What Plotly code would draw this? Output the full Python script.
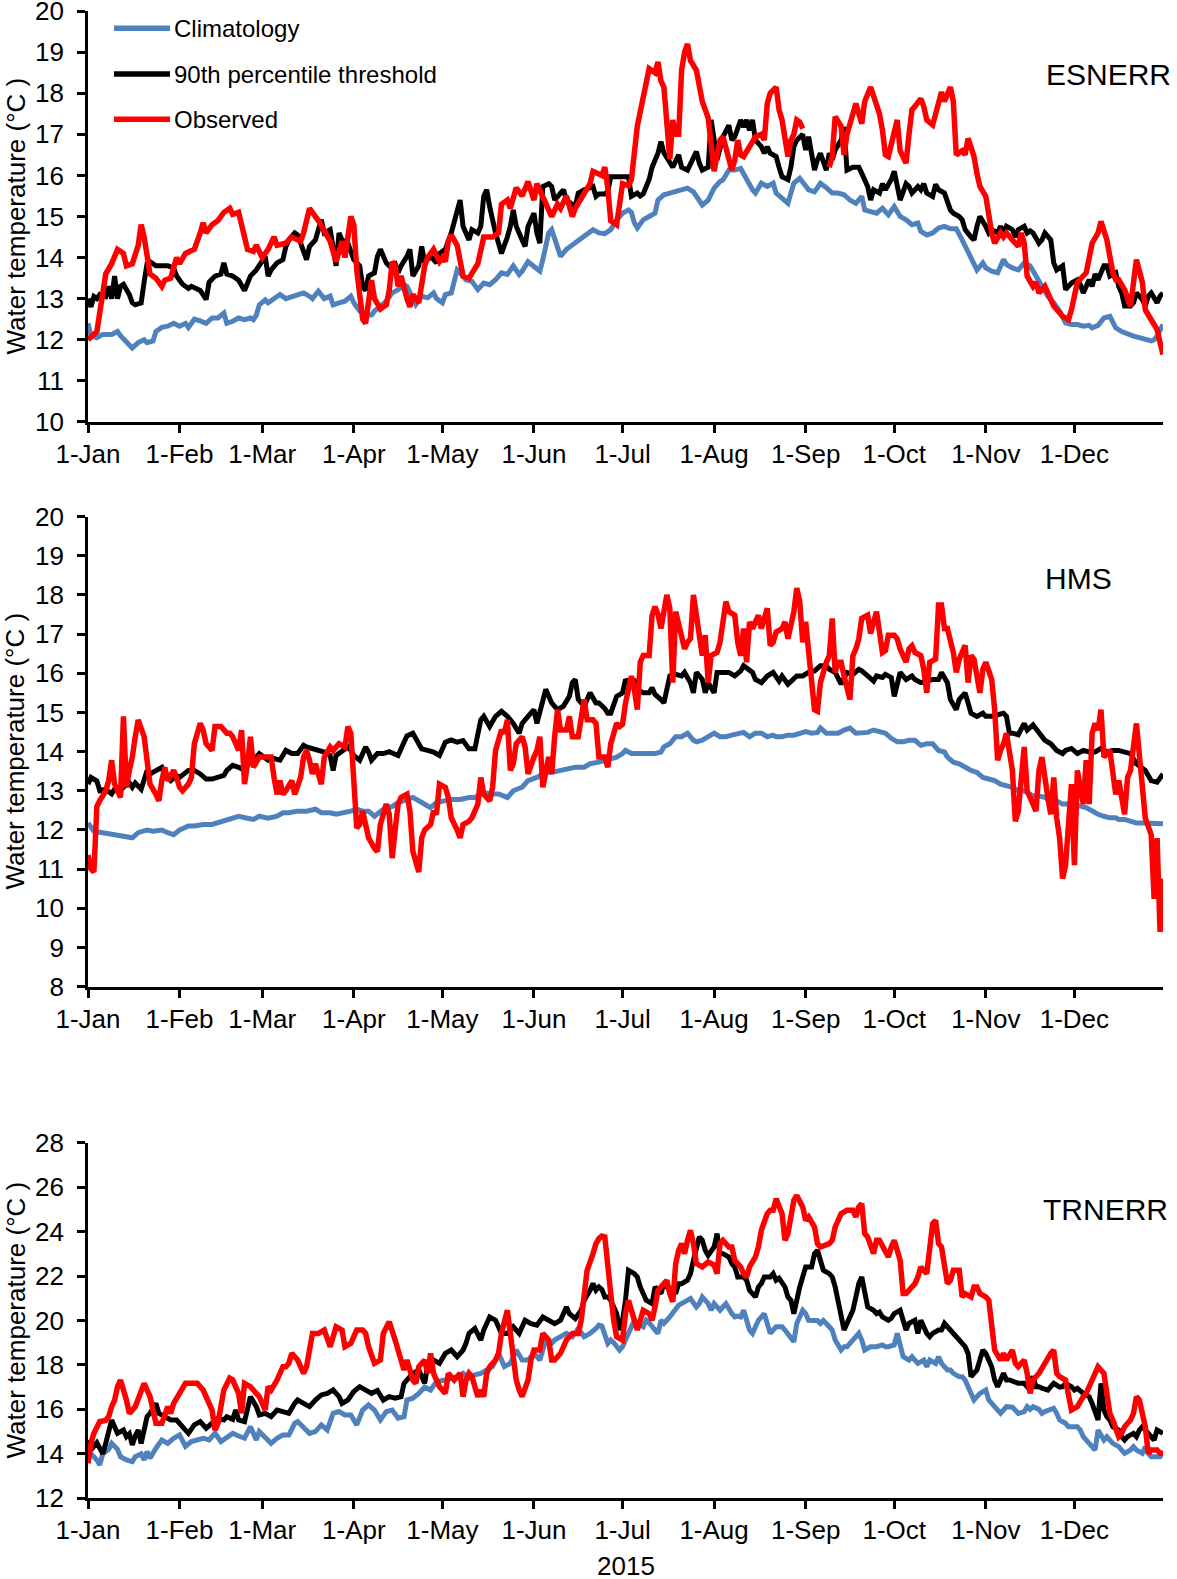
import plotly.graph_objects as go

# ---------------- data ----------------
month_start_days = [0, 31, 59, 90, 120, 151, 181, 212, 243, 273, 304, 334]
month_labels = ["1-Jan", "1-Feb", "1-Mar", "1-Apr", "1-May", "1-Jun",
                "1-Jul", "1-Aug", "1-Sep", "1-Oct", "1-Nov", "1-Dec"]
year_label = "2015"
stations = ["ESNERR", "HMS", "TRNERR"]
series_names = ["Climatology", "90th percentile threshold", "Observed"]
series_colors = ["#4F81BD", "#000000", "#FF0000"]
y_ranges = [[10, 20], [8, 20], [12, 28]]
y_dticks = [1, 1, 2]

# (day of year, value in degC)
esn_clim = [(0,12.4),(1,12.1),(3,12.05),(5,12.13),(8,12.13),(10,12.2),(11,12.1),(13,11.93),(15,11.8),(17,11.93),(19,12.0),(20,11.93),(22,11.97),(23,12.2),(25,12.3),(27,12.33),(29,12.4),(31,12.33),(33,12.4),(34,12.3),(36,12.5),(38,12.46),(40,12.4),(42,12.53),(44,12.53),(46,12.65),(47,12.4),(49,12.45),(51,12.53),(53,12.49),(55,12.53),(56,12.49),(57,12.6),(58,12.85),(60,12.97),(61,12.9),(63,13.0),(65,13.1),(67,13.0),(69,13.05),(71,13.1),(73,13.14),(75,13.06),(76,13.0),(78,13.18),(80,13.0),(82,13.06),(83,12.85),(85,12.9),(87,12.94),(89,13.06),(90,12.9),(92,12.7),(94,12.6),(96,12.6),(97,12.7),(99,12.82),(101,12.94),(103,13.14),(105,13.22),(107,13.34),(108,13.3),(110,13.0),(111,12.86),(113,13.06),(115,13.02),(117,13.14),(118,13.0),(120,12.9),(121,13.1),(123,13.14),(125,13.7),(126,13.63),(128,13.46),(130,13.42),(132,13.22),(134,13.38),(136,13.34),(138,13.46),(140,13.63),(142,13.59),(144,13.8),(146,13.59),(147,13.67),(149,13.9),(151,13.8),(153,13.67),(154,13.95),(156,14.6),(157,14.68),(158,14.43),(160,14.03),(162,14.2),(164,14.3),(166,14.43),(169,14.55),(171,14.68),(173,14.6),
    (175,14.58),(177,14.68),(179,14.92),(181,15.08),(183,15.16),(184,15.1),(185,14.84),(186,14.72),(188,14.92),(190,15.0),(192,15.08),(193,15.4),(195,15.53),(197,15.57),(199,15.6),(201,15.65),(203,15.69),(205,15.6),(206,15.49),(208,15.28),(210,15.4),(212,15.69),(214,15.85),(215,15.89),(217,16.13),(219,16.13),(221,16.17),(223,15.89),(225,15.65),(226,15.57),(228,15.81),(230,15.73),(232,15.81),(233,15.57),(235,15.45),(237,15.32),(238,15.57),(239,15.81),(241,15.93),(243,15.77),(244,15.65),(246,15.6),(248,15.81),(250,15.7),(252,15.57),(254,15.57),(256,15.53),(258,15.4),(260,15.32),(262,15.49),(263,15.16),(265,15.12),(267,15.08),(269,15.2),(271,15.04),(273,15.24),(275,15.0),(277,14.92),(279,14.8),(281,14.84),(282,14.64),(284,14.55),(286,14.6),(288,14.72),(290,14.76),(292,14.7),(294,14.7),(296,14.43),(298,14.11),(300,13.79),(301,13.7),(303,13.87),(304,13.75),(306,13.67),(308,13.63),(310,13.95),(311,13.83),(313,13.75),(315,13.7),(317,13.87),(319,13.8),(321,13.55),(323,13.3),(325,13.06),(327,12.9),(329,12.7),(331,12.41),(333,12.37),(335,12.37),(337,12.33),(339,12.35),(340,12.29),(342,12.35),(344,12.53),(346,12.57),(348,12.29),(350,12.2),(352,12.13),(354,12.09),(356,12.05),(358,12.0),(360,11.97),(361,12.0),(362,12.09),(364,12.37)]

esn_thr = [(0,13.0),(1,12.8),(2,13.05),(3,13.0),(4,13.1),(6,13.05),(7,13.3),(8,13.0),(9,13.55),(10,13.0),(11,13.3),(12,13.35),(14,13.1),(15,12.9),(16,12.85),(18,12.9),(19,13.4),(20,13.85),(21,13.9),(23,13.8),(25,13.8),(27,13.8),(29,13.75),(30,13.55),(32,13.35),(34,13.25),(35,13.3),(38,13.2),(40,12.98),(41,13.4),(43,13.55),(45,13.6),(46,13.87),(47,13.6),(49,13.55),(51,13.45),(53,13.2),(55,13.55),(57,13.7),(58,13.8),(60,14.03),(61,13.55),(62,13.7),(64,13.87),(66,13.95),(67,14.27),(68,14.43),(70,14.6),(71,14.55),(72,14.35),(74,13.95),(75,14.27),(77,14.43),(79,14.92),(80,14.6),(82,14.68),(83,14.27),(84,13.8),(85,14.6),(86,14.43),(88,14.35),(89,14.1),(90,13.95),(92,13.8),(93,13.3),(94,13.2),(95,13.55),(97,13.63),(98,14.03),(99,14.2),(101,13.87),(102,13.8),(104,13.85),(105,13.63),(106,13.8),(108,14.03),(109,14.2),(110,13.55),(112,13.8),(113,14.27),(114,13.87),(116,14.03),(118,13.87),(119,14.1),(121,14.2),(123,14.6),(125,15.08),(126,15.4),(127,14.76),(129,14.43),(130,14.68),(132,14.6),(133,14.76),(134,15.49),(135,15.65),(136,15.24),(138,14.6),(139,14.35),(140,14.1),(142,14.5),(143,14.76),(144,15.16),(145,14.76),(147,14.43),(148,14.27),(149,14.76),(151,15.08),(152,14.6),(153,14.35),(154,15.73),(156,15.8),(157,15.73),(158,15.4),(160,15.57),(161,15.65),(162,15.4),(165,15.24),(166,15.57),(168,15.65),(171,15.73),(172,15.49),(173,15.55),
    (175,15.55),(176,15.6),(177,15.97),(180,15.97),(183,15.97),(184,15.49),(186,15.57),(187,15.5),(188,15.55),(190,15.9),(191,16.2),(193,16.54),(194,16.82),(195,16.55),(197,16.3),(198,16.2),(200,16.5),(201,16.2),(203,16.13),(204,16.3),(206,16.58),(207,16.3),(208,16.13),(210,16.2),(211,17.35),(213,16.38),(214,16.7),(215,16.94),(217,17.22),(218,16.86),(219,16.94),(221,17.35),(222,17.18),(223,17.35),(224,17.1),(225,17.35),(226,16.86),(228,16.7),(229,16.54),(230,16.7),(231,16.54),(233,16.46),(234,16.2),(235,15.97),(237,15.9),(238,16.2),(239,16.7),(240,16.86),(242,17.0),(243,16.62),(244,16.94),(246,16.13),(247,16.38),(248,16.54),(250,16.13),(251,16.54),(252,16.38),(253,16.62),(255,16.86),(256,17.18),(257,16.13),(259,16.2),(260,16.2),(261,16.2),(262,16.05),(264,15.73),(265,15.4),(266,15.65),(268,15.57),(269,15.8),(270,15.65),(272,15.9),(273,16.1),(274,15.8),(275,15.4),(277,15.8),(278,15.73),(279,15.57),(281,15.73),(282,15.65),(283,15.8),(284,15.57),(286,15.49),(287,15.78),(288,15.65),(290,15.57),(291,15.4),(292,15.16),(293,15.08),(295,15.0),(296,14.92),(297,14.68),(299,14.5),(300,14.43),(301,14.76),(302,15.0),(304,14.76),(305,14.6),(306,14.68),(308,14.6),(309,14.76),(310,14.6),(311,14.76),(313,14.68),(314,14.5),(315,14.68),(317,14.76),(318,14.6),(319,14.65),(320,14.6),(322,14.35),(323,14.43),(324,14.6),(326,14.43),(327,13.87),(328,13.7),(330,13.8),(331,13.22),(332,13.3),(333,13.38),(335,13.46),(336,13.34),(337,13.14),(339,13.46),(340,13.3),(341,13.6),(342,13.46),(344,13.8),(345,13.8),(346,13.55),(348,13.63),(349,13.3),(350,13.14),(351,12.82),(353,12.82),(354,12.9),(355,13.14),(357,12.98),(358,12.82),(359,13.06),(360,13.14),(362,12.9),(363,13.06),(364,13.14)]

esn_obs = [(0,12.0),(3,12.2),(6,13.6),(8,13.85),(10,14.2),(12,14.1),(13,13.8),(15,13.85),(17,14.3),(18,14.8),(19,14.5),(21,13.6),(23,13.5),(25,13.3),(26,13.45),(28,13.5),(30,14.0),(31,13.85),(33,14.1),(36,14.2),(38,14.6),(39,14.85),(40,14.6),(42,14.8),(44,14.9),(46,15.1),(48,15.2),(49,15.05),(51,15.1),(54,14.2),(56,14.15),(57,14.3),(59,14.0),(61,14.2),(63,14.5),(64,14.3),(67,14.35),(69,14.5),(72,14.4),(73,14.6),(75,15.2),(76,15.1),(78,14.9),(82,14.4),(84,13.9),(86,14.4),(87,14.0),(89,15.0),(90,14.8),(91,13.7),(93,12.5),(94,12.4),(95,13.0),(96,13.45),(97,13.0),(99,12.75),(101,12.85),(102,13.2),(103,13.9),(104,13.8),(105,13.3),(106,13.55),(108,13.0),(109,12.8),(110,13.1),(112,12.9),(114,13.8),(115,14.0),(117,14.2),(119,13.9),(120,14.0),(121,13.9),(122,14.4),(123,14.55),(125,14.3),(127,13.55),(129,13.5),(130,13.6),(132,13.85),(134,14.5),(137,14.5),(139,14.6),(140,15.3),(142,15.4),(143,15.2),(145,15.7),(147,15.5),(149,15.85),(151,15.4),(152,15.8),(154,15.5),(157,15.0),(159,15.3),(160,15.2),(162,15.5),(164,15.0),(165,15.2),(168,15.6),(170,15.8),(171,16.1),(174,16.0),
    (175,16.2),(176,15.7),(177,14.9),(179,14.8),(181,15.8),(183,15.75),(184,15.9),(185,16.7),(186,17.2),(188,17.9),(189,18.3),(190,18.6),(192,18.5),(193,18.76),(194,18.3),(195,18.15),(197,16.4),(198,17.35),(199,17.0),(200,17.0),(201,18.56),(202,19.0),(203,19.2),(204,18.8),(206,18.56),(208,17.8),(210,17.4),(211,16.86),(212,16.1),(213,16.5),(214,16.86),(215,16.94),(217,16.46),(218,16.13),(219,16.37),(220,16.86),(221,16.5),(222,16.46),(224,16.7),(225,16.86),(226,16.94),(228,17.0),(229,16.86),(230,17.75),(231,18.0),(233,18.15),(234,17.6),(235,17.35),(237,16.46),(238,16.86),(239,17.0),(240,17.35),(241,17.3),(242,17.14),(246,None),(251,16.2),(252,16.46),(253,17.43),(255,17.2),(256,16.5),(257,17.0),(259,17.5),(260,17.75),(262,17.26),(263,17.8),(265,18.15),(266,17.9),(268,17.5),(269,17.1),(270,16.5),(271,16.46),(273,17.0),(274,17.35),(275,16.6),(277,16.3),(278,17.0),(279,17.6),(280,17.68),(282,17.87),(283,17.68),(284,17.35),(286,17.23),(287,17.5),(289,18.03),(290,17.8),(292,18.15),(293,17.8),(294,16.5),(296,16.6),(297,16.5),(298,16.9),(300,16.46),(301,16.05),(302,15.73),(304,15.49),(305,14.92),(306,14.6),(307,14.35),(309,14.6),(310,14.5),(311,14.6),(313,14.43),(315,14.27),(316,14.6),(317,14.35),(318,13.55),(320,13.3),(321,13.4),(322,13.14),(324,13.3),(326,12.98),(327,12.82),(330,12.57),(332,12.49),(333,12.73),(335,13.4),(338,13.63),(340,14.35),(342,14.6),(343,14.88),(345,14.43),(347,13.63),(348,13.46),(349,13.46),(351,13.22),(353,12.82),(355,13.95),(357,13.4),(358,12.73),(360,12.49),(362,12.25),(363,11.93),(364,11.64)]

hms_clim = [(0,12.18),(2,11.97),(5,11.93),(9,11.88),(12,11.86),(15,11.8),(17,11.93),(20,12.0),(22,11.97),(25,12.0),(27,11.93),(29,11.88),(31,12.0),(34,12.1),(36,12.1),(39,12.14),(42,12.14),(45,12.22),(48,12.3),(51,12.35),(54,12.3),(56,12.27),(58,12.35),(61,12.3),(64,12.35),(66,12.44),(68,12.44),(71,12.48),(74,12.48),(77,12.53),(79,12.44),(82,12.44),(84,12.4),(87,12.44),(89,12.48),(91,12.53),(93,12.48),(95,12.48),(97,12.35),(100,12.53),(103,12.6),(105,12.7),(108,12.78),(110,12.83),(113,12.7),(116,12.57),(118,12.7),(121,12.74),(123,12.78),(126,12.78),(129,12.83),(131,12.83),(134,12.96),(136,12.92),(139,12.92),(142,12.83),(144,13.0),(147,13.09),(149,13.26),(152,13.34),(155,13.47),(157,13.47),(160,13.52),(162,13.56),(165,13.6),(168,13.6),(170,13.69),(173,13.73),
    (175,13.78),(177,13.82),(179,13.86),(181,13.95),(182,14.03),(184,13.95),(186,13.95),(189,13.97),(192,13.95),(194,13.99),(195,14.12),(197,14.2),(199,14.38),(201,14.38),(203,14.47),(205,14.29),(206,14.25),(208,14.29),(210,14.38),(212,14.47),(214,14.38),(216,14.38),(218,14.42),(220,14.47),(222,14.49),(224,14.38),(226,14.47),(228,14.47),(230,14.38),(232,14.42),(233,14.38),(235,14.38),(237,14.42),(239,14.42),(241,14.47),(243,14.51),(245,14.47),(247,14.49),(248,14.6),(250,14.47),(252,14.47),(254,14.47),(256,14.55),(258,14.6),(260,14.47),(262,14.47),(264,14.49),(266,14.55),(268,14.51),(270,14.47),(272,14.34),(274,14.25),(276,14.25),(278,14.29),(280,14.29),(282,14.16),(284,14.2),(286,14.2),(288,14.03),(290,13.99),(291,13.86),(293,13.73),(295,13.69),(297,13.6),(299,13.52),(301,13.47),(303,13.34),(305,13.3),(307,13.26),(309,13.17),(311,13.13),(313,13.09),(315,13.0),(317,13.0),(319,12.91),(320,12.87),(322,12.87),(324,12.83),(326,12.74),(328,12.74),(330,12.66),(332,12.66),(334,12.61),(336,12.61),(338,12.57),(340,12.48),(342,12.4),(344,12.35),(346,12.31),(348,12.31),(349,12.27),(351,12.27),(353,12.22),(355,12.18),(357,12.18),(359,12.18),(361,12.18),(363,12.16),(364,12.16)]

hms_thr = [(0,13.17),(1,13.34),(3,13.25),(4,13.0),(6,13.04),(8,12.92),(9,13.04),(11,13.0),(12,13.09),(14,13.2),(15,13.09),(16,13.2),(18,13.04),(19,13.26),(20,13.52),(21,13.43),(23,13.52),(25,13.6),(26,13.39),(28,13.26),(30,13.39),(31,13.34),(34,13.52),(36,13.52),(38,13.43),(40,13.3),(42,13.3),(44,13.34),(46,13.39),(47,13.52),(49,13.65),(51,13.6),(53,13.52),(55,13.78),(57,13.86),(58,13.95),(60,13.86),(61,13.78),(63,13.82),(65,13.78),(67,14.03),(69,13.95),(71,13.95),(73,14.16),(74,14.12),(76,14.07),(78,14.03),(80,13.99),(82,13.9),(83,13.52),(84,13.9),(86,14.03),(88,14.12),(89,14.03),(90,13.9),(92,13.78),(94,14.12),(95,13.99),(96,13.78),(98,13.95),(100,13.95),(102,14.0),(104,13.95),(105,13.9),(107,14.24),(108,14.4),(110,14.47),(112,14.24),(113,14.07),(115,14.03),(117,13.99),(119,13.9),(121,14.24),(123,14.3),(125,14.24),(127,14.28),(129,14.07),(131,14.07),(132,14.47),(133,14.81),(134,14.9),(136,14.64),(138,14.9),(140,15.03),(142,14.9),(144,14.72),(146,14.47),(147,14.72),(149,14.9),(151,15.07),(152,14.72),(154,15.33),(155,15.59),(157,15.24),(159,15.07),(161,15.16),(163,15.41),(164,15.76),(165,15.84),(166,15.33),(168,15.16),(170,15.5),(172,15.24),(173,15.24),
    (175,15.1),(176,14.98),(177,14.98),(179,15.41),(181,15.5),(182,15.84),(183,15.76),(185,15.8),(186,15.59),(188,15.5),(190,15.5),(191,15.63),(192,15.46),(194,15.33),(195,15.24),(197,15.93),(199,15.97),(201,15.93),(202,16.02),(204,15.76),(205,15.5),(206,16.02),(208,15.84),(209,15.5),(210,15.76),(212,15.5),(213,16.02),(215,16.02),(217,16.02),(219,15.93),(221,16.06),(222,16.19),(224,16.06),(225,16.02),(226,15.84),(228,15.76),(230,15.93),(232,16.02),(234,15.8),(235,15.93),(237,15.72),(239,15.89),(240,15.93),(242,15.93),(244,16.02),(246,16.06),(248,16.19),(250,16.19),(251,16.1),(253,16.02),(254,15.89),(255,15.72),(257,16.02),(259,15.97),(261,16.1),(262,16.06),(264,15.93),(266,15.8),(267,15.93),(269,15.89),(270,15.97),(272,15.89),(273,15.41),(275,16.02),(277,15.84),(279,15.93),(280,15.84),(282,15.76),(284,15.8),(286,15.84),(288,15.84),(289,16.02),(291,15.76),(292,15.33),(294,15.07),(295,15.33),(297,15.5),(299,14.98),(301,14.9),(303,14.98),(304,14.9),(306,14.9),(308,14.94),(310,14.98),(311,14.9),(312,14.47),(313,14.47),(315,14.43),(317,14.72),(318,14.55),(320,14.68),(322,14.47),(324,14.29),(326,14.2),(328,14.03),(330,13.95),(331,14.03),(333,14.08),(335,13.95),(337,14.03),(339,13.99),(341,13.99),(343,14.08),(345,13.99),(347,14.03),(349,14.03),(351,13.99),(353,13.95),(355,13.69),(357,13.6),(358,13.52),(360,13.26),(362,13.22),(364,13.43)]

hms_obs = [(0,11.36),(1,11.0),(2,10.93),(3,12.6),(4,12.75),(6,13.0),(7,13.26),(8,13.78),(9,13.17),(10,13.0),(11,12.83),(12,14.9),(13,13.09),(14,13.52),(15,13.86),(16,14.38),(17,14.81),(19,14.38),(20,13.7),(21,13.17),(23,12.91),(24,12.74),(25,13.26),(26,13.6),(27,13.26),(29,13.52),(30,13.34),(31,13.09),(32,13.0),(34,13.17),(35,13.34),(36,14.2),(38,14.72),(39,14.55),(40,14.2),(42,14.03),(43,14.64),(45,14.64),(47,14.47),(48,14.47),(49,14.38),(51,14.03),(52,14.55),(53,13.17),(54,13.69),(55,14.38),(56,13.6),(58,13.86),(60,13.86),(62,13.86),(63,13.34),(64,12.91),(65,13.26),(66,12.91),(67,13.0),(69,13.26),(70,12.91),(72,13.34),(73,13.86),(74,14.03),(75,13.78),(76,13.43),(77,13.69),(79,13.17),(80,13.86),(82,14.12),(83,14.03),(84,14.1),(85,14.2),(87,14.12),(88,14.64),(89,14.47),(90,13.17),(91,12.05),(92,12.14),(93,12.48),(94,12.14),(95,11.8),(97,11.53),(98,11.45),(99,12.14),(101,12.66),(102,12.4),(103,11.28),(104,12.0),(105,12.66),(106,12.83),(108,12.91),(109,12.48),(110,11.45),(112,10.93),(113,11.8),(114,12.0),(116,12.14),(117,12.48),(118,12.4),(119,13.17),(121,13.09),(122,12.83),(123,12.31),(125,12.0),(126,11.8),(127,12.14),(129,12.22),(130,12.31),(132,12.66),(133,13.34),(134,12.91),(136,12.74),(137,13.09),(138,14.03),(140,14.55),(141,14.47),(142,14.81),(143,13.52),(144,13.69),(145,14.2),(147,14.38),(148,14.12),(149,13.43),(151,13.86),(152,14.03),(153,14.38),(154,13.09),(156,13.86),(157,13.43),(158,14.38),(159,15.07),(160,14.55),(162,14.55),(163,14.9),(164,14.38),(166,14.38),(167,14.98),(168,15.33),(169,14.81),(171,14.81),(172,14.72),(173,13.86),
    (175,13.86),(176,13.6),(177,14.2),(179,14.72),(180,14.64),(181,14.7),(182,15.24),(184,15.93),(185,15.59),(186,15.07),(187,16.28),(188,16.45),(190,16.45),(191,17.48),(192,17.7),(193,17.5),(194,17.14),(195,17.57),(196,18.0),(197,17.66),(198,15.76),(199,17.57),(201,16.97),(202,16.62),(203,16.79),(204,16.88),(205,18.0),(206,17.48),(208,16.45),(209,16.97),(210,15.76),(211,16.45),(213,16.53),(214,16.79),(216,17.83),(217,17.57),(219,17.48),(220,16.79),(221,16.45),(222,17.14),(223,16.28),(224,17.31),(225,17.14),(226,17.31),(227,17.48),(228,17.14),(229,17.44),(230,17.66),(231,16.71),(232,16.79),(233,17.05),(235,17.14),(236,17.31),(237,16.88),(239,17.57),(240,18.17),(241,17.83),(242,16.79),(243,17.31),(244,16.45),(246,15.07),(247,15.03),(248,15.76),(250,16.28),(251,16.45),(252,17.4),(253,16.02),(254,16.28),(255,16.28),(256,15.93),(258,15.33),(259,16.45),(260,16.62),(261,16.88),(262,17.4),(264,17.48),(265,17.01),(266,17.31),(267,17.57),(269,16.53),(270,16.58),(271,16.97),(273,16.97),(274,16.88),(275,16.62),(277,16.28),(278,16.62),(279,16.7),(280,16.53),(282,16.45),(283,16.1),(284,15.5),(285,16.28),(287,16.36),(288,17.74),(289,17.74),(290,17.14),(291,17.14),(293,16.53),(294,16.02),(295,16.36),(297,16.71),(298,15.76),(299,16.45),(300,16.36),(302,15.5),(303,16.1),(304,16.28),(306,15.84),(307,15.07),(308,13.78),(309,14.03),(310,14.2),(311,14.47),(313,13.52),(314,12.22),(315,12.48),(317,14.12),(318,13.0),(319,12.83),(321,12.48),(322,13.52),(323,13.86),(325,12.83),(326,12.4),(327,13.34),(328,12.31),(329,11.79),(330,10.76),(331,11.1),(333,13.17),(334,11.1),(335,13.52),(337,12.66),(338,13.78),(339,12.66),(340,14.47),(341,14.72),(342,14.55),(343,15.07),(344,13.86),(346,14.03),(347,13.52),(348,12.91),(349,13.26),(351,12.4),(352,13.34),(353,13.52),(355,14.72),(356,13.86),(357,12.91),(358,12.31),(360,11.88),(361,10.24),(362,11.79),(363,9.4),(364,10.76)]

trn_clim = [(0,13.87),(1,14.0),(3,13.72),(4,13.5),(5,14.0),(7,14.2),(8,14.47),(10,14.2),(11,13.87),(13,13.72),(15,13.65),(16,13.87),(18,14.0),(19,13.72),(20,14.1),(21,13.8),(23,14.25),(25,14.62),(27,14.47),(29,14.7),(31,14.85),(33,14.33),(35,14.55),(37,14.62),(39,14.7),(41,14.62),(43,14.92),(45,14.55),(47,14.77),(49,14.92),(51,14.8),(53,14.7),(55,15.22),(57,14.62),(58,15.0),(60,14.77),(62,14.47),(64,14.7),(66,14.85),(68,14.85),(70,15.37),(71,15.45),(73,15.15),(75,14.92),(77,15.0),(79,15.3),(81,15.07),(83,15.82),(85,15.9),(87,15.75),(89,15.75),(91,15.3),(93,15.97),(95,16.2),(97,15.97),(99,15.52),(101,15.9),(103,15.97),(105,15.6),(107,15.67),(108,16.42),(110,16.5),(112,16.72),(114,17.0),(116,16.87),(118,17.25),(121,17.32),(123,17.4),(125,17.47),(127,17.62),(129,17.4),(131,17.55),(133,17.62),(135,17.77),(137,17.93),(139,18.52),(141,17.93),(143,18.07),(145,18.67),(147,18.22),(149,18.22),(151,18.52),(153,18.22),(155,19.12),(157,18.97),(158,19.12),(160,19.27),(162,19.42),(164,19.27),(166,19.64),(168,19.27),(170,19.42),(172,19.64),(173,19.79),
    (174,19.75),(175,19.42),(176,18.97),(177,19.12),(178,19.0),(180,18.67),(181,18.82),(182,19.12),(184,19.72),(185,20.01),(186,19.87),(188,19.72),(189,20.01),(190,19.9),(192,19.57),(193,19.42),(194,20.01),(195,19.87),(197,20.16),(198,20.31),(199,20.46),(200,20.69),(202,20.84),(203,20.91),(204,20.99),(206,20.61),(207,20.76),(208,21.06),(210,20.76),(211,20.46),(212,20.76),(214,20.46),(215,20.61),(216,20.76),(218,20.31),(219,20.16),(220,20.2),(221,20.16),(222,20.46),(224,19.57),(225,19.42),(226,19.72),(227,20.01),(229,20.31),(230,19.87),(231,19.42),(233,19.72),(234,19.7),(235,19.72),(236,19.57),(238,19.27),(239,19.04),(240,19.87),(242,20.46),(243,20.31),(244,20.01),(246,20.0),(247,20.0),(248,19.87),(249,20.0),(251,19.72),(252,19.57),(253,19.12),(255,18.67),(256,18.82),(257,18.82),(258,18.97),(260,19.27),(261,19.42),(262,19.12),(263,18.67),(265,18.82),(266,18.82),(267,18.82),(269,18.9),(270,18.82),(271,18.82),(273,18.9),(274,19.42),(275,18.82),(276,18.37),(278,18.22),(279,18.37),(280,18.22),(281,18.07),(283,18.22),(284,17.92),(285,18.22),(287,18.07),(288,18.37),(289,18.07),(291,17.77),(292,17.77),(293,17.62),(295,17.47),(296,17.47),(297,17.32),(298,17.02),(300,16.42),(301,16.57),(302,16.72),(304,16.87),(305,16.42),(306,16.27),(307,16.12),(309,15.82),(310,15.97),(311,16.12),(313,16.1),(314,15.97),(315,15.82),(317,15.9),(318,16.12),(319,16.0),(320,16.12),(322,16.0),(323,15.82),(324,15.9),(326,15.97),(327,16.05),(328,15.82),(329,15.52),(331,15.37),(332,15.22),(333,15.22),(335,15.22),(336,15.07),(337,14.77),(339,14.47),(340,14.32),(341,14.17),(342,15.07),(344,14.62),(345,14.77),(346,14.62),(347,14.47),(349,14.32),(350,14.17),(351,14.02),(353,14.17),(354,14.32),(355,14.17),(357,14.02),(358,14.32),(359,14.02),(360,13.87),(362,13.87),(363,13.87),(364,14.02)]

trn_thr = [(0,14.62),(1,14.17),(3,14.5),(4,14.25),(5,14.0),(6,14.47),(8,15.52),(9,15.22),(10,14.92),(12,15.07),(13,14.77),(14,14.9),(15,14.4),(16,14.8),(17,15.07),(18,14.47),(20,15.67),(21,15.82),(23,16.27),(24,15.82),(26,15.67),(28,15.52),(30,15.52),(32,15.22),(34,14.92),(36,15.3),(38,15.45),(40,15.15),(42,15.37),(44,15.6),(46,15.52),(47,15.67),(49,15.55),(50,15.97),(51,15.52),(53,15.45),(55,16.57),(57,16.12),(58,15.75),(60,15.82),(62,15.67),(64,15.97),(66,15.9),(68,15.82),(70,16.27),(71,16.42),(73,16.27),(75,16.12),(77,16.42),(79,16.65),(81,16.72),(83,16.87),(85,16.57),(86,16.27),(88,16.42),(90,16.8),(92,17.02),(94,16.9),(96,16.72),(98,16.85),(100,16.42),(102,16.57),(104,16.5),(106,16.57),(107,17.17),(109,17.47),(110,17.62),(112,17.77),(114,17.17),(115,18.0),(117,18.22),(119,18.07),(121,18.52),(123,18.67),(125,18.37),(127,18.67),(128,18.97),(129,19.42),(131,19.64),(133,19.12),(134,19.57),(136,20.16),(138,20.01),(140,19.42),(142,19.42),(144,19.72),(146,19.42),(148,20.01),(150,19.86),(152,19.79),(154,20.16),(156,20.01),(158,19.86),(160,20.01),(162,20.61),(163,20.31),(165,20.09),(167,20.46),(168,20.91),(170,21.36),(171,21.66),(172,21.36),(173,21.51),
    (174,21.4),(175,21.06),(176,21.06),(177,20.91),(179,20.31),(180,19.57),(181,20.01),(182,20.91),(183,22.26),(185,22.11),(186,21.96),(187,21.51),(189,20.91),(190,20.84),(191,20.76),(192,21.51),(194,21.21),(195,21.66),(196,21.51),(198,21.36),(199,21.21),(200,21.66),(201,21.66),(203,21.81),(204,22.11),(205,22.71),(207,23.76),(208,23.61),(209,23.16),(210,22.93),(212,23.31),(213,23.91),(214,23.01),(215,23.01),(217,22.86),(218,22.56),(219,22.41),(220,21.96),(222,21.96),(223,21.81),(224,21.36),(226,21.06),(227,21.51),(228,21.66),(229,21.96),(231,21.96),(232,22.11),(233,21.81),(234,21.9),(236,21.51),(237,21.06),(238,20.91),(239,20.31),(241,21.51),(242,21.96),(243,22.41),(245,22.41),(246,23.01),(247,23.16),(248,22.71),(249,22.26),(251,22.11),(252,21.96),(253,21.51),(255,20.01),(256,19.57),(257,19.87),(259,20.46),(260,21.06),(261,21.66),(262,21.96),(263,21.21),(264,20.61),(266,20.46),(267,20.31),(268,20.38),(269,20.16),(271,20.01),(272,20.1),(273,20.31),(275,20.46),(276,20.01),(277,19.57),(278,19.87),(280,20.01),(281,19.42),(282,20.01),(284,19.42),(285,19.27),(286,19.42),(288,19.57),(289,19.57),(290,19.87),(291,19.72),(293,19.42),(294,19.27),(295,19.12),(297,18.82),(298,18.52),(299,17.47),(301,17.77),(302,18.22),(303,18.67),(304,18.52),(306,17.92),(307,17.32),(308,17.02),(310,17.62),(311,17.32),(312,17.32),(313,17.25),(315,17.17),(316,17.17),(317,17.17),(318,17.02),(320,17.47),(321,17.02),(322,17.02),(323,16.95),(325,16.87),(326,17.02),(327,17.17),(329,17.0),(330,17.02),(331,17.17),(333,17.02),(334,16.87),(335,16.95),(337,16.72),(338,16.65),(339,16.57),(340,16.27),(342,15.52),(343,17.17),(344,15.97),(345,15.67),(346,15.52),(347,15.22),(349,15.07),(350,14.77),(351,14.62),(352,14.77),(354,14.92),(355,14.77),(356,15.07),(357,15.22),(359,14.92),(360,14.77),(361,14.62),(362,15.07),(364,14.92)]

trn_obs = [(0,13.57),(1,14.47),(2,14.92),(3,15.22),(4,15.45),(6,15.5),(7,15.67),(8,16.12),(9,16.42),(10,17.02),(11,17.32),(13,16.42),(14,15.82),(16,16.12),(17,16.42),(19,17.17),(21,16.57),(22,15.82),(23,15.37),(25,15.37),(27,16.12),(28,15.82),(29,16.27),(31,16.72),(33,17.17),(35,17.17),(37,17.17),(39,16.87),(41,16.27),(42,15.97),(43,15.07),(44,15.37),(45,16.12),(46,16.87),(48,17.4),(49,17.32),(51,16.72),(52,15.82),(53,17.17),(55,17.02),(56,16.87),(58,16.57),(60,15.97),(61,17.02),(62,16.87),(64,17.32),(66,17.92),(67,17.92),(68,18.07),(69,18.52),(71,18.22),(73,17.62),(74,17.92),(76,19.42),(78,19.42),(80,19.57),(82,18.82),(84,19.72),(86,19.57),(87,18.82),(89,18.97),(91,19.57),(93,19.57),(94,19.42),(95,18.82),(97,18.07),(99,18.22),(100,19.42),(102,19.94),(103,19.42),(104,19.12),(106,18.22),(107,17.77),(108,18.22),(110,17.32),(111,17.17),(112,17.92),(114,18.22),(115,17.62),(116,18.52),(117,17.62),(119,17.02),(121,16.72),(122,17.62),(124,17.32),(126,17.62),(127,16.57),(128,17.32),(129,17.62),(130,17.47),(132,16.57),(133,16.87),(134,16.57),(135,17.62),(136,17.92),(138,18.22),(139,18.52),(140,19.42),(141,19.87),(142,20.46),(143,19.42),(145,17.32),(146,16.87),(147,16.57),(149,17.32),(150,18.22),(151,18.67),(153,18.67),(154,19.42),(156,19.12),(157,18.22),(158,18.22),(160,18.52),(162,19.12),(164,19.42),(166,19.42),(167,20.01),(168,21.06),(169,22.26),(171,23.01),(172,23.46),(173,23.69),
    (174,23.8),(175,23.76),(176,22.71),(177,21.21),(178,20.01),(179,19.27),(181,19.12),(182,20.31),(183,20.91),(184,20.5),(185,20.0),(186,19.57),(187,20.01),(188,20.46),(190,20.31),(191,20.01),(192,20.61),(193,21.36),(195,21.66),(196,21.81),(197,21.21),(198,20.84),(199,22.56),(200,23.16),(201,23.46),(202,23.01),(203,23.61),(204,24.06),(205,23.46),(206,22.56),(208,22.41),(209,22.56),(210,22.63),(212,22.5),(213,22.11),(214,23.46),(215,23.61),(217,23.31),(218,23.31),(219,22.71),(221,22.41),(222,22.11),(223,21.96),(224,22.41),(226,22.86),(227,23.31),(228,24.06),(230,24.81),(231,24.96),(232,24.96),(233,25.48),(235,24.81),(236,23.61),(237,23.91),(238,24.81),(239,25.41),(240,25.63),(242,25.11),(243,24.51),(244,24.66),(246,24.21),(247,23.46),(248,23.31),(250,23.4),(251,23.46),(252,23.61),(253,24.21),(255,24.81),(256,24.88),(257,24.96),(259,24.96),(260,24.66),(261,25.11),(262,25.26),(263,23.91),(264,23.76),(266,23.01),(267,23.61),(268,23.61),(269,23.31),(271,22.86),(272,23.31),(273,23.61),(275,22.71),(276,21.21),(277,21.21),(279,21.51),(280,21.66),(281,21.96),(282,22.41),(284,22.11),(285,23.31),(286,24.36),(287,24.51),(288,23.46),(289,23.31),(291,21.66),(292,21.81),(293,22.26),(295,22.26),(296,21.06),(297,21.21),(299,21.06),(300,21.51),(301,21.51),(302,21.21),(304,21.06),(305,20.91),(306,19.72),(307,18.67),(309,18.22),(310,18.52),(311,18.22),(313,18.67),(314,18.07),(315,17.92),(317,18.22),(318,17.62),(319,16.72),(320,17.32),(322,17.62),(323,17.92),(324,18.07),(326,18.52),(327,18.67),(328,17.62),(329,17.47),(331,17.32),(332,16.57),(333,15.97),(335,16.12),(336,16.42),(337,16.57),(338,16.72),(340,17.32),(341,17.77),(342,17.92),(344,17.62),(345,16.72),(346,15.82),(347,15.52),(349,14.77),(350,14.92),(351,15.22),(353,15.52),(354,15.82),(355,16.57),(356,16.42),(358,15.22),(359,14.02),(360,14.17),(362,14.17),(363,14.02),(364,14.02)]

panels = [
    [esn_clim, esn_thr, esn_obs],
    [hms_clim, hms_thr, hms_obs],
    [trn_clim, trn_thr, trn_obs],
]

# ---------------- layout geometry (pixels) ----------------
W, H = 1177, 1579
ML, MR = 88, 14
PW = W - ML - MR
panel_px = [(11.1, 421.9), (516.5, 986.7), (1142.8, 1498.2)]  # (top, bottom)
FONT = "Liberation Sans, Arial, Helvetica, sans-serif"
line_widths = [5, 5, 5.5]


def fx(px):
    return (px - ML) / PW


def fy(py):
    return 1 - py / H


fig = go.Figure()

for i, series_list in enumerate(panels):
    ax = "" if i == 0 else str(i + 1)
    for j, pts in enumerate(series_list):
        days = [p[0] for p in pts]
        vals = [p[1] for p in pts]
        fig.add_trace(go.Scatter(
            x=days, y=vals, mode="lines", name=series_names[j],
            line=dict(color=series_colors[j], width=line_widths[j]),
            xaxis="x" + ax, yaxis="y" + ax, showlegend=False,
            hovertemplate="%{y:.2f} °C<extra>" + series_names[j] + "</extra>",
        ))

axis_common = dict(
    showline=True, linecolor="black", linewidth=2.8,
    ticks="outside", ticklen=8, tickwidth=2.5, tickcolor="black",
    showgrid=False, zeroline=False, automargin=False,
    ticklabeloverflow="allow",
    tickfont=dict(family=FONT, size=26, color="black"),
)

layout = dict(
    width=W, height=H,
    margin=dict(l=ML, r=MR, t=0, b=0, pad=0, autoexpand=False),
    paper_bgcolor="white", plot_bgcolor="white",
    font=dict(family=FONT, color="black"),
    showlegend=False,
)

annotations = []
for i in range(3):
    ax = "" if i == 0 else str(i + 1)
    top, bot = panel_px[i]
    layout["xaxis" + ax] = dict(
        axis_common, domain=[0, 1], range=[0, 364],
        tickvals=month_start_days, ticktext=month_labels,
        anchor="y" + ax, ticklabelstandoff=-1,
    )
    layout["yaxis" + ax] = dict(
        axis_common, domain=[fy(bot), fy(top)], range=y_ranges[i],
        dtick=y_dticks[i], tick0=y_ranges[i][0], anchor="x" + ax,
        ticklabelstandoff=8,
    )
    annotations.append(dict(
        text="Water temperature (°C )", textangle=-90,
        xref="paper", yref="paper", x=fx(15), y=fy((top + bot) / 2),
        xanchor="center", yanchor="middle", showarrow=False,
        font=dict(family=FONT, size=26, color="black"),
    ))

station_pos = [(1044, 74.5), (1043, 578), (1041, 1209)]
for name, (sx, sy) in zip(stations, station_pos):
    annotations.append(dict(
        text=name, xref="paper", yref="paper", x=fx(sx), y=fy(sy),
        xanchor="left", yanchor="middle", showarrow=False,
        font=dict(family=FONT, size=30, color="black"),
    ))

annotations.append(dict(
    text=year_label, xref="paper", yref="paper", x=0.5, y=fy(1566),
    xanchor="center", yanchor="middle", showarrow=False,
    font=dict(family=FONT, size=26, color="black"),
))

# legend drawn inside panel 1
shapes = []
legend_y = [28.3, 74.0, 119.3]
for name, col, ly in zip(series_names, series_colors, legend_y):
    shapes.append(dict(type="line", xref="paper", yref="paper",
                       x0=fx(114), x1=fx(170), y0=fy(ly), y1=fy(ly),
                       line=dict(color=col, width=5.5)))
    annotations.append(dict(
        text=name, xref="paper", yref="paper", x=fx(172), y=fy(ly),
        xanchor="left", yanchor="middle", showarrow=False,
        font=dict(family=FONT, size=24, color="black"),
    ))

layout["annotations"] = annotations
layout["shapes"] = shapes
fig.update_layout(**layout)

# place the figure at the page's top-left corner (no default body margin)
fig.write_html(
    "out.html",
    config={"displayModeBar": False},
    post_script="document.body.style.margin='0';document.body.style.overflow='hidden';",
)
